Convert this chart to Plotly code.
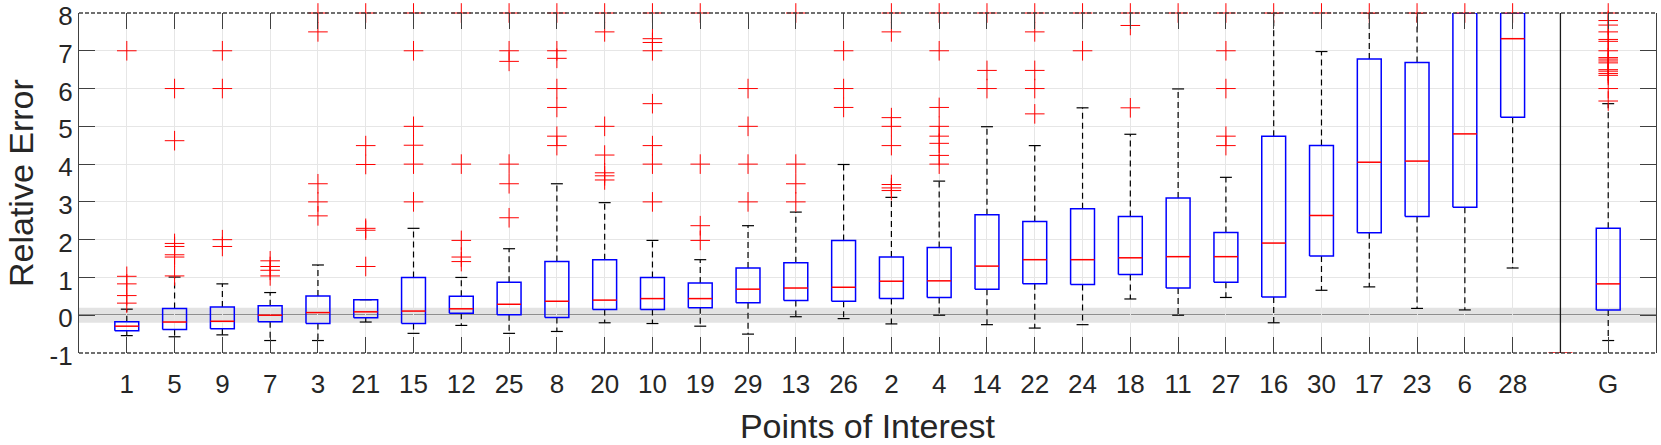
import plotly.graph_objects as go

# ---------------- data ----------------
categories = ["1", "5", "9", "7", "3", "21", "15", "12", "25", "8", "20", "10", "19", "29", "13",
              "26", "2", "4", "14", "22", "24", "18", "11", "27", "16", "30", "17", "23", "6", "28", "G"]

q1 = [-0.41, -0.38, -0.36, -0.17, -0.22, -0.07, -0.22, 0.05, 0.01, -0.06, 0.15, 0.15, 0.20, 0.33, 0.39,
      0.37, 0.44, 0.47, 0.69, 0.83, 0.81, 1.08, 0.72, 0.87, 0.48, 1.57, 2.18, 2.61, 2.86, 5.24, 0.14]
median = [-0.29, -0.18, -0.16, 0.00, 0.07, 0.09, 0.11, 0.17, 0.29, 0.37, 0.40, 0.44, 0.44, 0.69, 0.72,
          0.74, 0.90, 0.91, 1.30, 1.47, 1.47, 1.52, 1.55, 1.55, 1.91, 2.64, 4.05, 4.08, 4.80, 7.32, 0.83]
q3 = [-0.17, 0.18, 0.22, 0.25, 0.51, 0.41, 1.00, 0.50, 0.87, 1.42, 1.47, 1.00, 0.85, 1.25, 1.39,
      1.98, 1.54, 1.79, 2.66, 2.48, 2.82, 2.61, 3.10, 2.19, 4.74, 4.49, 6.78, 6.69, 8.00, 8.00, 2.30]
lower_whisker = [-0.54, -0.57, -0.52, -0.67, -0.67, -0.18, -0.48, -0.27, -0.48, -0.43, -0.20, -0.22, -0.29, -0.50, -0.04,
                 -0.09, -0.23, 0.00, -0.25, -0.34, -0.25, 0.43, 0.00, 0.47, -0.20, 0.66, 0.75, 0.18, 0.14, 1.25, -0.67]
upper_whisker = [0.16, 1.01, 0.83, 0.60, 1.33, 0.41, 2.30, 1.00, 1.76, 3.48, 2.98, 1.98, 1.47, 2.37, 2.73,
                 3.99, 3.12, 3.55, 4.99, 4.49, 5.49, 4.79, 5.99, 3.65, 8.00, 6.98, 8.00, 8.00, 8.00, 8.00, 5.60]
outliers = [
    [0.32, 0.52, 0.83, 1.03, 7.0],                          # 1
    [1.04, 1.54, 1.60, 1.82, 1.90, 4.62, 6.0],              # 5
    [1.82, 2.0, 6.0, 7.0],                                  # 9
    [1.04, 1.19, 1.29, 1.44],                               # 7
    [2.63, 3.0, 3.48, 7.5, 8.0],                            # 3
    [1.29, 2.25, 2.30, 3.99, 4.49, 8.0],                    # 21
    [3.0, 4.0, 4.5, 5.0, 7.0, 8.0],                         # 15
    [1.42, 1.54, 1.98, 4.0, 8.0],                           # 12
    [2.58, 3.48, 4.0, 6.72, 7.0, 8.0],                      # 25
    [4.49, 4.74, 5.5, 6.0, 6.8, 7.0, 8.0],                  # 8
    [3.58, 3.69, 3.77, 4.24, 5.0, 7.5, 8.0],                # 20
    [3.0, 4.0, 4.49, 5.6, 7.0, 7.22, 7.32, 8.0],            # 10
    [1.98, 2.37, 4.0, 8.0],                                 # 19
    [3.0, 4.0, 5.0, 6.0],                                   # 29
    [3.0, 3.48, 4.0, 8.0],                                  # 13
    [5.5, 6.0, 7.0],                                        # 26
    [3.30, 3.37, 3.46, 4.49, 5.0, 5.23, 7.5, 8.0],          # 2
    [4.0, 4.23, 4.55, 4.74, 5.0, 5.5, 7.0, 8.0],            # 4
    [6.0, 6.48, 8.0],                                       # 14
    [5.33, 6.0, 6.48, 7.5, 8.0],                            # 22
    [7.0, 8.0],                                             # 24
    [5.49, 7.67, 8.0],                                      # 18
    [8.0],                                                  # 11
    [4.49, 4.74, 6.0, 7.0, 8.0],                            # 27
    [8.0],                                                  # 16
    [8.0],                                                  # 30
    [8.0],                                                  # 17
    [8.0],                                                  # 23
    [8.0],                                                  # 6
    [8.0],                                                  # 28
    [5.67, 6.0, 6.35, 6.40, 6.46, 6.5, 6.68, 6.73, 6.78, 6.82, 7.0, 7.25, 7.3, 7.5, 7.68, 7.8, 8.0],  # G
]
# empty group drawn at the separator position (only its median shows, at the axis floor)
separator_median = -1.0
zero_band = [-0.2, 0.2]
y_ticks = [-1, 0, 1, 2, 3, 4, 5, 6, 7, 8]

# ---------------- positions ----------------
n_poi = len(categories) - 1
positions = list(range(n_poi)) + [n_poi + 1]   # gap before "G"
sep_pos = n_poi
half_box = 0.25
half_cap = 0.125

BLUE = "#0000ff"
RED = "#ff0000"
TXT = "#262626"
FONT = "Liberation Sans, Arial, Helvetica, sans-serif"

box_x, box_y = [], []
med_x, med_y = [], []
wh_x, wh_y = [], []
cap_x, cap_y = [], []
out_x, out_y = [], []
for i, p in enumerate(positions):
    box_x += [p - half_box, p + half_box, p + half_box, p - half_box, p - half_box, None]
    box_y += [q1[i], q1[i], q3[i], q3[i], q1[i], None]
    med_x += [p - half_box, p + half_box, None]
    med_y += [median[i], median[i], None]
    wh_x += [p, p, None, p, p, None]
    wh_y += [q3[i], upper_whisker[i], None, q1[i], lower_whisker[i], None]
    cap_x += [p - half_cap, p + half_cap, None, p - half_cap, p + half_cap, None]
    cap_y += [upper_whisker[i], upper_whisker[i], None, lower_whisker[i], lower_whisker[i], None]
    for v in outliers[i]:
        out_x.append(p)
        out_y.append(v)

fig = go.Figure()
fig.add_trace(go.Scatter(x=wh_x, y=wh_y, mode="lines", line=dict(color="black", width=1.2, dash="6px,4px"),
                         hoverinfo="skip", showlegend=False, cliponaxis=False))
fig.add_trace(go.Scatter(x=cap_x, y=cap_y, mode="lines", line=dict(color="black", width=1.2),
                         hoverinfo="skip", showlegend=False, cliponaxis=False))
fig.add_trace(go.Scatter(x=box_x, y=box_y, mode="lines", line=dict(color=BLUE, width=1.5),
                         hoverinfo="skip", showlegend=False, cliponaxis=False))
fig.add_trace(go.Scatter(x=med_x, y=med_y, mode="lines", line=dict(color=RED, width=1.5),
                         hoverinfo="skip", showlegend=False, cliponaxis=False))
fig.add_trace(go.Scatter(x=[sep_pos - half_box, sep_pos + half_box], y=[separator_median, separator_median],
                         mode="lines", line=dict(color=RED, width=1.5),
                         hoverinfo="skip", showlegend=False, cliponaxis=False))
fig.add_trace(go.Scatter(x=out_x, y=out_y, mode="markers",
                         marker=dict(symbol="cross-thin", size=14, color=RED, line=dict(color=RED, width=1)),
                         showlegend=False, cliponaxis=False))

# zero band, zero line, separator, dashed top/bottom frame
fig.add_shape(type="rect", xref="paper", yref="y", x0=0, x1=1, y0=zero_band[0], y1=zero_band[1],
              fillcolor="#e3e3e3", line=dict(width=0), layer="below")
fig.add_shape(type="line", xref="paper", yref="y", x0=0, x1=1, y0=0, y1=0,
              line=dict(color="#3a3a3a", width=1.5), layer="between")
fig.add_shape(type="line", xref="x", yref="paper", x0=sep_pos, x1=sep_pos, y0=0, y1=1,
              line=dict(color="#1a1a1a", width=1.3), layer="above")
for yy in (0, 1):
    fig.add_shape(type="line", xref="paper", yref="paper", x0=0, x1=1, y0=yy, y1=yy,
                  line=dict(color="#404040", width=1.3, dash="4px,2px"), layer="above")

plot_w = 1661 - 79 - 5
fig.add_annotation(text="Relative Error", xref="paper", yref="paper",
                   x=(21 - 79) / plot_w, y=0.5, xanchor="center", yanchor="middle",
                   textangle=-90, showarrow=False,
                   font=dict(size=34, color=TXT, family=FONT))

fig.update_layout(
    width=1661, height=445,
    margin=dict(l=79, r=5, t=13, b=92, autoexpand=False),
    paper_bgcolor="white", plot_bgcolor="white",
    font=dict(family=FONT, color=TXT),
    showlegend=False,
)
fig.update_xaxes(
    range=[-1, len(categories) + 1],
    tickmode="array", tickvals=positions, ticktext=categories,
    ticks="inside", ticklen=16, tickwidth=1.3, tickcolor="#404040",
    showline=False, mirror="ticks",
    showgrid=True, gridcolor="#e6e6e6", gridwidth=1,
    zeroline=False,
    tickfont=dict(size=26, color=TXT, family=FONT),
    ticklabelstandoff=13,
    title=dict(text="Points of Interest", font=dict(size=34, color=TXT, family=FONT), standoff=19),
)
fig.update_yaxes(
    range=[y_ticks[0], y_ticks[-1]],
    tickmode="array", tickvals=y_ticks, ticktext=[str(t) for t in y_ticks],
    ticks="inside", ticklen=16, tickwidth=1.3, tickcolor="#404040",
    showline=True, linecolor="#404040", linewidth=1.3, mirror="ticks",
    showgrid=True, gridcolor="#e6e6e6", gridwidth=1,
    zeroline=False,
    tickfont=dict(size=26, color=TXT, family=FONT),
    ticklabelstandoff=0, ticklabeloverflow="allow", ticklabelshift=3,
)

fig.write_html("out.html")
